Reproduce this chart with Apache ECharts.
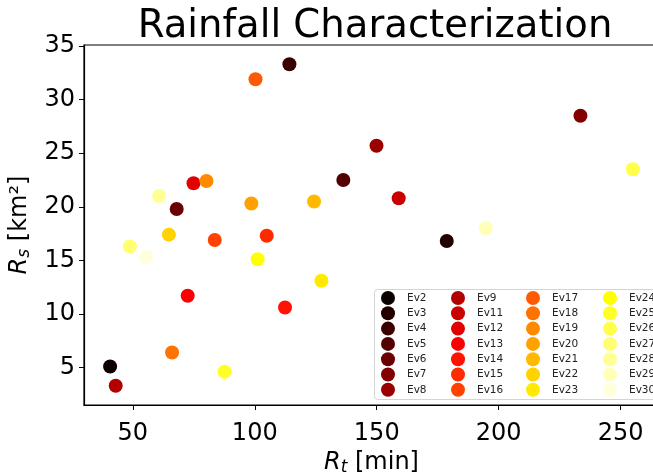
<!DOCTYPE html>
<html>
<head>
<meta charset="utf-8">
<script src="https://cdn.jsdelivr.net/npm/echarts@6/dist/echarts.min.js"></script>
<style>
  html, body { margin: 0; padding: 0; background: #fff; }
  #main { width: 653px; height: 473px; }
</style>
</head>
<body>
<div id="main"></div>
<script>
// event names, Rt [min] and Rs [km2]
const events = ['Ev2','Ev3','Ev4','Ev5','Ev6','Ev7','Ev8','Ev9','Ev11','Ev12','Ev13','Ev14','Ev15','Ev16',
  'Ev17','Ev18','Ev19','Ev20','Ev21','Ev22','Ev23','Ev24','Ev25','Ev26','Ev27','Ev28','Ev29','Ev30']
const rt = [40.7, 178.7, 114.2, 136.3, 68.0, 233.5, 149.9, 43.0, 159.0, 74.9, 72.5, 112.4, 104.9, 83.6,
  100.3, 66.1, 80.2, 98.6, 124.3, 64.8, 127.3, 101.2, 87.6, 255.0, 48.8, 60.8, 194.7, 55.5]
const rs = [5.1, 16.8, 33.3, 22.5, 19.8, 28.5, 25.7, 3.3, 20.8, 22.2, 11.7, 10.6, 17.3, 16.9,
  31.9, 6.4, 22.4, 20.3, 20.5, 17.4, 13.1, 15.1, 4.6, 23.5, 16.3, 21.0, 18.0, 15.3]
const xTicks = [50, 100, 150, 200, 250]
const yTicks = [5, 10, 15, 20, 25, 30, 35]

// matplotlib 'hot' colormap
function hot(t){
  const r = t < 0.365079 ? 0.0416 + t / 0.365079 * (1 - 0.0416) : 1
  const g = t < 0.365079 ? 0 : (t < 0.746032 ? (t - 0.365079) / (0.746032 - 0.365079) : 1)
  const b = t < 0.746032 ? 0 : (t - 0.746032) / (1 - 0.746032)
  const h = v => Math.round(v * 255).toString(16).padStart(2, '0')
  return '#' + h(r) + h(g) + h(b)
}

const font = 'DejaVu Sans'
const chart = echarts.init(document.getElementById('main'))

const series = events.map((name, i) => ({
  type: 'scatter',
  name: name,
  symbol: 'circle',
  symbolSize: 14,
  itemStyle: { color: hot(i / 28), opacity: 1 },
  data: [[rt[i], rs[i]]],
  animation: false
}))

// legend in 4 columns of 7, filled column by column
const colLeft = [381, 451, 526, 603]
const legends = colLeft.map((left, c) => ({
  orient: 'vertical',
  left: left,
  top: 291,
  icon: 'circle',
  itemWidth: 28,
  itemHeight: 14,
  itemGap: 1.3,
  padding: 0,
  selectedMode: false,
  textStyle: { fontFamily: font, fontSize: 10.5, color: '#222' },
  data: events.slice(c * 7, c * 7 + 7)
}))

const subStyle = { fontFamily: font, fontSize: 17, fontStyle: 'italic', color: '#000', padding: [10, 0, 0, 0], verticalAlign: 'bottom' }
const italic = { fontFamily: font, fontSize: 24, fontStyle: 'italic', color: '#000' }

const option = {
  animation: false,
  title: {
    text: 'Rainfall Characterization',
    left: 370,
    textAlign: 'center',
    top: 2,
    textStyle: { fontFamily: font, fontSize: 38.6, fontWeight: 'normal', color: '#000' }
  },
  grid: {
    left: 84, right: -6, top: 45, bottom: 68,
    containLabel: false,
    outerBoundsMode: 'none',
    show: true, borderColor: '#000', borderWidth: 1.2, backgroundColor: 'transparent'
  },
  legend: legends,
  xAxis: {
    type: 'value',
    min: 30, max: 265.7,
    splitLine: { show: false },
    axisLine: { lineStyle: { color: '#000', width: 1.2 } },
    axisTick: { show: true, length: 5, inside: false, customValues: xTicks, lineStyle: { color: '#000' } },
    axisLabel: { customValues: xTicks, fontFamily: font, fontSize: 24, color: '#000', margin: 17 },
    name: '{i|R}{sub|t} [min]',
    nameLocation: 'middle',
    nameGap: 36,
    nameTextStyle: { fontFamily: font, fontSize: 24, color: '#000', rich: { i: italic, sub: subStyle } }
  },
  yAxis: {
    type: 'value',
    min: 1.5, max: 35.1,
    splitLine: { show: false },
    axisLine: { show: true, lineStyle: { color: '#000', width: 1.2 } },
    axisTick: { show: true, length: 5, inside: false, customValues: yTicks, lineStyle: { color: '#000' } },
    axisLabel: { customValues: yTicks, fontFamily: font, fontSize: 24, color: '#000', margin: 9 },
    name: '{i|R}{sub|s} [km²]',
    nameLocation: 'middle',
    nameGap: 48,
    nameTextStyle: { fontFamily: font, fontSize: 24, color: '#000', rich: { i: italic, sub: subStyle } }
  },
  graphic: [{
    type: 'rect',
    z: 3,
    shape: { x: 374.5, y: 289.5, width: 300, height: 110, r: 3 },
    style: { fill: 'rgba(255,255,255,0.8)', stroke: '#d4d4d4', lineWidth: 1 }
  }],
  series: series
}

chart.setOption(option)
</script>
</body>
</html>
